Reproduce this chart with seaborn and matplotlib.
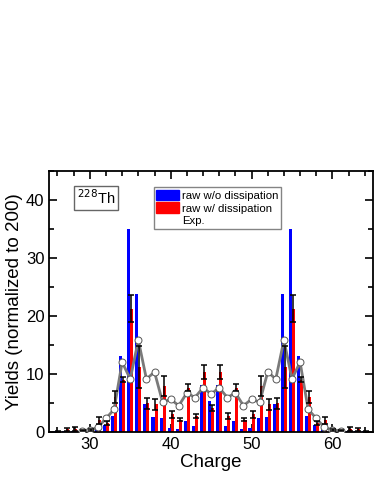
import matplotlib
matplotlib.use("Agg")
import matplotlib.pyplot as plt
import numpy as np
import pandas as pd
import seaborn as sns
from matplotlib.lines import Line2D
from matplotlib.patches import Patch
from matplotlib.ticker import MultipleLocator

# charge numbers for the bar series
charge = list(range(26, 65))

# raw w/o dissipation (blue)
raw_no_diss = [0.15, 0.1, 0.2, 0.1, 0.1, 0.3, 1.1, 2.7, 13.0, 34.9, 23.8, 4.8, 2.6,
               2.3, 0.6, 0.5, 1.9, 1.0, 8.1, 5.3, 8.1, 1.0, 1.9, 0.5, 0.6, 2.3,
               2.6, 4.8, 23.8, 34.9, 13.0, 2.7, 1.1, 0.3, 0.1, 0.1, 0.2, 0.1, 0.15]

# raw w/ dissipation (red) and its errors
raw_diss = [0.1, 0.4, 0.5, 0.2, 0.3, 2.0, 1.5, 6.0, 9.0, 21.2, 11.2, 4.9, 4.7,
            7.9, 3.0, 2.1, 7.6, 2.7, 10.3, 4.1, 10.3, 2.7, 7.6, 2.1, 3.0, 7.9,
            4.7, 4.9, 11.2, 21.2, 9.0, 6.0, 1.5, 2.0, 0.3, 0.2, 0.5, 0.4, 0.1]
raw_diss_err = [0.1, 0.25, 0.3, 0.1, 0.2, 0.6, 0.4, 1.1, 0.5, 2.3, 3.6, 1.0, 0.9,
                1.7, 0.65, 0.2, 0.6, 0.4, 1.2, 0.5, 1.2, 0.5, 0.6, 0.2, 0.65, 1.7,
                0.9, 1.0, 3.6, 2.3, 0.5, 1.1, 0.4, 0.6, 0.2, 0.1, 0.3, 0.25, 0.1]

# experimental yields
exp_charge = list(range(29, 62))
exp_yield = [0.2, 0.3, 0.75, 2.3, 3.85, 12.0, 9.1, 15.8, 9.1, 10.3, 5.1, 5.6, 4.5,
             6.7, 5.9, 7.6, 6.5, 7.6, 5.9, 6.7, 4.5, 5.6, 5.1, 10.3, 9.1, 15.8,
             9.1, 12.0, 3.85, 2.3, 0.75, 0.3, 0.2]

sns.set_theme(style="ticks")
plt.rcParams["font.family"] = ["Liberation Sans", "DejaVu Sans"]
plt.rcParams["text.color"] = "black"
plt.rcParams["axes.labelcolor"] = "black"
plt.rcParams["xtick.color"] = "black"
plt.rcParams["ytick.color"] = "black"

fig = plt.figure(figsize=(3.74, 4.84), dpi=100)
ax = fig.add_axes([0.132, 0.108, 0.865, 0.539])

z = np.array(charge, dtype=float)
w = 0.38
ax.bar(z - w / 2, raw_no_diss, width=w, color="#0000ff", linewidth=0, zorder=2)
ax.bar(z + w / 2, raw_diss, width=w, color="#ff0000", linewidth=0, zorder=2)

exp_df = pd.DataFrame({"charge": exp_charge, "yield": exp_yield})
sns.lineplot(data=exp_df, x="charge", y="yield", ax=ax, color="#7a7a7a", linewidth=2,
             marker="o", markersize=5, markerfacecolor="white",
             markeredgecolor="#555555", markeredgewidth=0.7, zorder=4)

ax.errorbar(z + 0.12, raw_diss, yerr=raw_diss_err, fmt="none", ecolor="black",
            elinewidth=1.1, capsize=2.5, capthick=1.1, zorder=5)

ax.set_xlim(25, 65)
ax.set_ylim(0, 45)
ax.xaxis.set_major_locator(MultipleLocator(10))
ax.xaxis.set_minor_locator(MultipleLocator(2))
ax.yaxis.set_major_locator(MultipleLocator(10))
ax.yaxis.set_minor_locator(MultipleLocator(5))
ax.tick_params(which="both", direction="in", top=True, right=True, width=1.2)
ax.tick_params(which="major", length=6, labelsize=12)
ax.tick_params(which="minor", length=3.5)
for s in ax.spines.values():
    s.set_linewidth(1.3)
    s.set_color("black")

ax.set_xlabel("Charge", fontsize=13.5, labelpad=2)
ax.set_ylabel("Yields (normalized to 200)", fontsize=13.5, labelpad=2)

ax.text(0.144, 0.896, "$^{228}$Th", transform=ax.transAxes, fontsize=10.5,
        ha="center", va="center",
        bbox=dict(boxstyle="square,pad=0.2", facecolor="white",
                  edgecolor="#666666", linewidth=1))

handles = [Patch(color="#0000ff"), Patch(color="#ff0000"),
           Line2D([], [], linestyle="none")]
labels = ["raw w/o dissipation", "raw w/ dissipation", "Exp."]
leg = ax.legend(handles, labels, loc="upper left", bbox_to_anchor=(0.323, 0.937),
                fontsize=8.2, frameon=True, fancybox=False, handlelength=2.0,
                handleheight=1.05, handletextpad=0.3, labelspacing=0.15,
                borderpad=0.2, borderaxespad=0)
leg.get_frame().set_edgecolor("#666666")
leg.get_frame().set_linewidth(1)

fig.savefig("out.png", dpi=100)
plt.close(fig)
